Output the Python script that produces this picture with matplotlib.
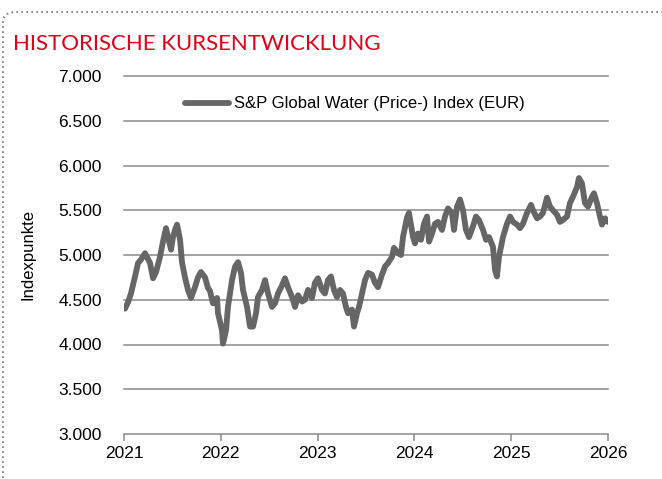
import matplotlib
matplotlib.use("Agg")
import matplotlib.pyplot as plt
from matplotlib.patches import FancyBboxPatch

# decimal years
YEARS = [
    2021.010, 2021.041, 2021.072, 2021.114, 2021.145, 2021.176, 2021.217, 2021.269,
    2021.300, 2021.331, 2021.372, 2021.403, 2021.434, 2021.455, 2021.486, 2021.506,
    2021.527, 2021.548, 2021.579, 2021.599, 2021.630, 2021.661, 2021.692, 2021.733,
    2021.764, 2021.795, 2021.837, 2021.868, 2021.888, 2021.919, 2021.961, 2021.971,
    2022.012, 2022.023, 2022.054, 2022.074, 2022.116, 2022.147, 2022.178, 2022.209,
    2022.229, 2022.271, 2022.302, 2022.333, 2022.364, 2022.384, 2022.426, 2022.457,
    2022.488, 2022.529, 2022.560, 2022.591, 2022.632, 2022.663, 2022.694, 2022.736,
    2022.767, 2022.798, 2022.839, 2022.870, 2022.901, 2022.942, 2022.973, 2023.004,
    2023.045, 2023.076, 2023.107, 2023.138, 2023.169, 2023.200, 2023.231, 2023.262,
    2023.293, 2023.314, 2023.355, 2023.376, 2023.407, 2023.428, 2023.459, 2023.490,
    2023.521, 2023.562, 2023.593, 2023.624, 2023.665, 2023.696, 2023.727, 2023.769,
    2023.789, 2023.831, 2023.862, 2023.882, 2023.924, 2023.944, 2023.986, 2024.006,
    2024.037, 2024.068, 2024.099, 2024.130, 2024.151, 2024.182, 2024.213, 2024.244,
    2024.285, 2024.316, 2024.347, 2024.388, 2024.409, 2024.440, 2024.471, 2024.502,
    2024.533, 2024.564, 2024.605, 2024.636, 2024.667, 2024.709, 2024.740, 2024.771,
    2024.812, 2024.833, 2024.853, 2024.874, 2024.915, 2024.957, 2024.988, 2025.019,
    2025.060, 2025.091, 2025.122, 2025.163, 2025.205, 2025.225, 2025.267, 2025.298,
    2025.328, 2025.370, 2025.401, 2025.432, 2025.473, 2025.504, 2025.535, 2025.576,
    2025.607, 2025.638, 2025.680, 2025.700, 2025.731, 2025.762, 2025.793, 2025.835,
    2025.855, 2025.886, 2025.917, 2025.938, 2025.969, 2026.000,
]

VALUES = [
    4400, 4470, 4570, 4760, 4910, 4950, 5020, 4910,
    4740, 4810, 4980, 5150, 5300, 5200, 5060, 5200,
    5280, 5340, 5170, 4920, 4750, 4610, 4520, 4640,
    4750, 4810, 4750, 4630, 4600, 4460, 4520, 4350,
    4160, 4010, 4160, 4420, 4720, 4870, 4920, 4800,
    4610, 4420, 4200, 4200, 4350, 4530, 4610, 4720,
    4570, 4420, 4460, 4570, 4660, 4740, 4640, 4530,
    4420, 4550, 4480, 4500, 4610, 4520, 4690, 4740,
    4610, 4570, 4720, 4760, 4610, 4530, 4610, 4570,
    4420, 4350, 4390, 4200, 4350, 4420, 4570, 4720,
    4800, 4780, 4690, 4640, 4780, 4870, 4910, 4980,
    5080, 5020, 5000, 5200, 5420, 5470, 5200, 5130,
    5240, 5170, 5350, 5430, 5150, 5240, 5350, 5370,
    5280, 5430, 5520, 5470, 5280, 5540, 5620, 5500,
    5280, 5200, 5320, 5430, 5390, 5280, 5170, 5200,
    5090, 4830, 4760, 4980, 5200, 5350, 5430, 5370,
    5340, 5300, 5350, 5470, 5560, 5500, 5410, 5430,
    5470, 5640, 5540, 5500, 5450, 5370, 5390, 5430,
    5580, 5650, 5760, 5860, 5800, 5580, 5540, 5650,
    5690, 5580, 5430, 5340, 5410, 5370,
]

X_TICKS = [2021, 2022, 2023, 2024, 2025, 2026]
Y_TICKS = [3000, 3500, 4000, 4500, 5000, 5500, 6000, 6500, 7000]
Y_LABELS = ["3.000", "3.500", "4.000", "4.500", "5.000", "5.500", "6.000", "6.500", "7.000"]

TITLE = "HISTORISCHE KURSENTWICKLUNG"
SERIES = "S&P Global Water (Price-) Index (EUR)"

plt.rcParams["font.family"] = ["Liberation Sans", "DejaVu Sans"]

fig = plt.figure(figsize=(6.62, 4.79), dpi=100)
ax = fig.add_axes([124 / 662, 1 - 434 / 479, 484 / 662, 358 / 479])

grid_col = "#8a8a8a"
ax.plot(YEARS, VALUES, color="#666666", lw=4.2, solid_joinstyle="round",
        solid_capstyle="round", label=SERIES, zorder=3)

ax.set_xlim(2021, 2026)
ax.set_ylim(3000, 7000)
ax.set_xticks(X_TICKS)
ax.set_xticklabels([str(y) for y in X_TICKS], fontsize=12.5)
ax.set_yticks(Y_TICKS)
ax.set_yticklabels(Y_LABELS, fontsize=12.5)
for y in Y_TICKS[1:]:
    ax.axhline(y, color=grid_col, lw=1.1, zorder=1, clip_on=False)

for s in ["top", "right", "left"]:
    ax.spines[s].set_visible(False)
ax.spines["bottom"].set_color(grid_col)
ax.spines["bottom"].set_linewidth(1.1)
ax.tick_params(axis="x", direction="out", length=5, width=1.1, color=grid_col, pad=4)
ax.tick_params(axis="y", length=0, pad=16)
ax.set_ylabel("Indexpunkte", fontsize=12, labelpad=16)

ax.legend(loc="upper center", bbox_to_anchor=(0.477, 0.985), frameon=False,
          fontsize=12, handlelength=2.6, handletextpad=0.3)

fig.text(13 / 662, 1 - 44 / 479, TITLE, color="#e2001a", fontsize=16,
         va="center", ha="left", family=["Lato", "DejaVu Sans"])

# dotted frame, only top and left edges visible
frame = FancyBboxPatch((3 / 662, -0.2), 1.2, 1.2 - 12 / 479,
                       boxstyle="round,pad=0,rounding_size=0.02",
                       transform=fig.transFigure, fill=False,
                       edgecolor="#8a8a8a", lw=1.5, linestyle=(0, (0.8, 1.6)))
fig.patches.append(frame)

fig.savefig("out.png", dpi=100)
